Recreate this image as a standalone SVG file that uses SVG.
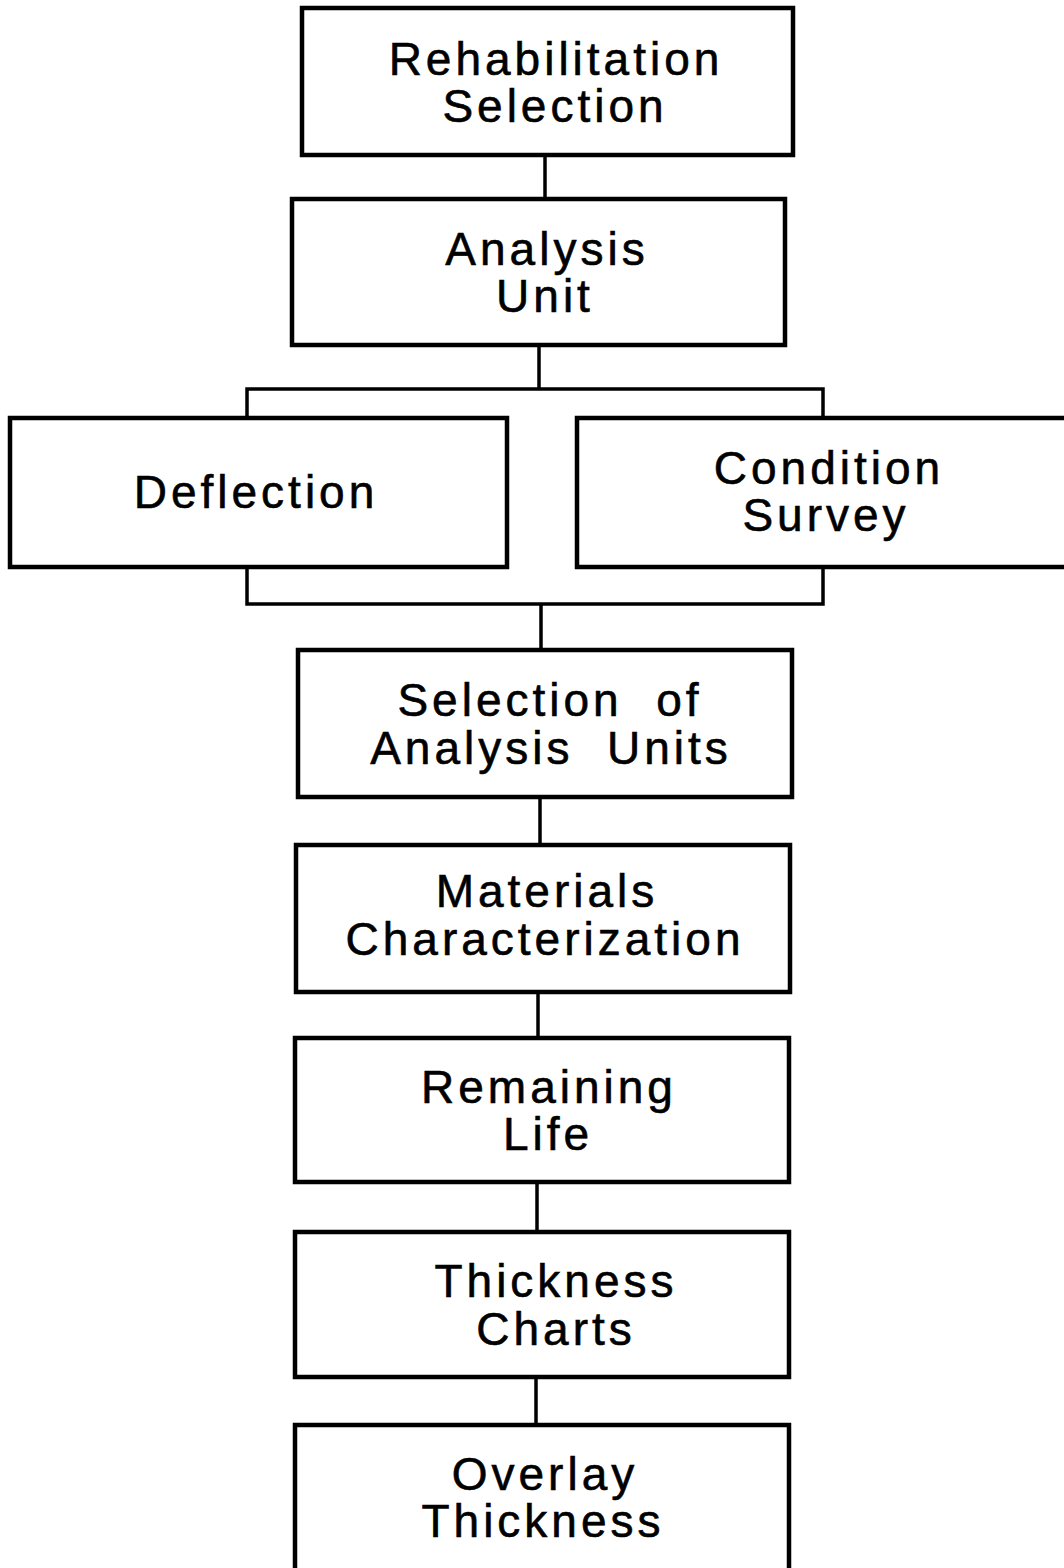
<svg xmlns="http://www.w3.org/2000/svg" width="1064" height="1568" viewBox="0 0 1064 1568">
<style>
.box{fill:#fff;stroke:#000;stroke-width:4.5}
.t{font-family:"Liberation Sans",Arial,sans-serif;font-size:46px;letter-spacing:4px;fill:#000;stroke:#000;stroke-width:0.6;text-anchor:middle;white-space:pre}
.c{fill:none;stroke:#000;stroke-width:3.5}
</style>
<rect width="1064" height="1568" fill="#fff"/>
<g id="connectors">
<line class="c" x1="545" y1="155" x2="545" y2="199"/>
<line class="c" x1="539" y1="345" x2="539" y2="389"/>
<polyline class="c" points="247,418 247,389 823,389 823,418"/>
<polyline class="c" points="247,567 247,604 823,604 823,567"/>
<line class="c" x1="541" y1="604" x2="541" y2="650"/>
<line class="c" x1="540" y1="797" x2="540" y2="845"/>
<line class="c" x1="538" y1="992" x2="538" y2="1038"/>
<line class="c" x1="537" y1="1182" x2="537" y2="1232"/>
<line class="c" x1="536" y1="1377" x2="536" y2="1425"/>
</g>
<g id="n1"><rect class="box" x="302" y="8" width="491" height="147"/>
<text class="t" x="556" y="75">Rehabilitation</text><text class="t" x="555" y="122">Selection</text></g>
<g id="n2"><rect class="box" x="292" y="199" width="493" height="146"/>
<text class="t" x="547" y="265">Analysis</text><text class="t" x="545" y="312">Unit</text></g>
<g id="n3"><rect class="box" x="10" y="418" width="497" height="149"/>
<text class="t" x="256" y="508">Deflection</text></g>
<g id="n4"><rect class="box" x="577" y="418" width="495" height="149"/>
<text class="t" x="829" y="484">Condition</text><text class="t" x="826" y="531">Survey</text></g>
<g id="n5"><rect class="box" x="298" y="650" width="494" height="147"/>
<text class="t" x="550" y="716" xml:space="preserve">Selection  of</text><text class="t" x="551" y="764" xml:space="preserve">Analysis  Units</text></g>
<g id="n6"><rect class="box" x="296" y="845" width="494" height="147"/>
<text class="t" x="547" y="907">Materials</text><text class="t" x="545" y="955">Characterization</text></g>
<g id="n7"><rect class="box" x="295" y="1038" width="494" height="144"/>
<text class="t" x="549" y="1103">Remaining</text><text class="t" x="548" y="1150">Life</text></g>
<g id="n8"><rect class="box" x="295" y="1232" width="494" height="145"/>
<text class="t" x="556" y="1297">Thickness</text><text class="t" x="556" y="1345">Charts</text></g>
<g id="n9"><rect class="box" x="295" y="1425" width="494" height="160"/>
<text class="t" x="545" y="1490">Overlay</text><text class="t" x="543" y="1537">Thickness</text></g>
</svg>
